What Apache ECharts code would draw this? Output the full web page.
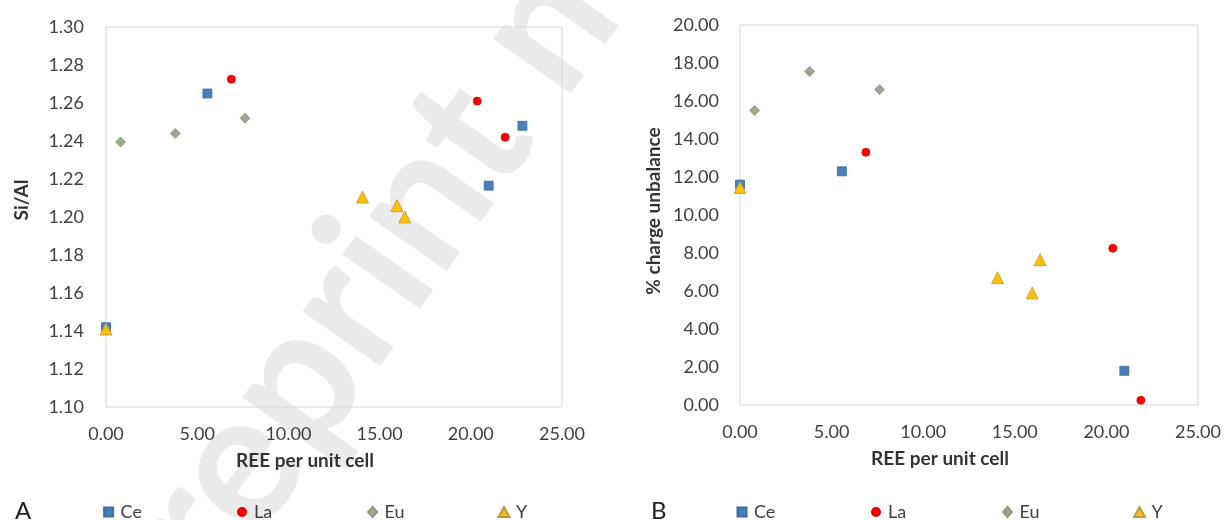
<!DOCTYPE html>
<html>
<head>
<meta charset="utf-8">
<script src="https://cdn.jsdelivr.net/npm/echarts@6/dist/echarts.min.js"></script>
<style>
html,body{margin:0;padding:0;background:#fff;}
#chart{width:1224px;height:520px;}
</style>
</head>
<body>
<div id="chart"></div>
<script>
// ---- data ----
const seriesNames = ['Ce', 'La', 'Eu', 'Y'];
const xTicks = ['0.00', '5.00', '10.00', '15.00', '20.00', '25.00'];

// REE per unit cell
const ceX = [0, 5.56, 20.98, 22.83];
const laX = [6.87, 20.35, 21.88];
const euX = [0.8, 3.8, 7.62];
const yX  = [0, 14.06, 15.95, 16.38];

// Panel A: Si/Al
const ceSiAl = [1.142, 1.265, 1.2165, 1.248];
const laSiAl = [1.2725, 1.261, 1.242];
const euSiAl = [1.2395, 1.244, 1.252];
const ySiAl  = [1.141, 1.2105, 1.206, 1.200];

// Panel B: % charge unbalance
const ceCharge = [11.6, 12.3, 1.8];
const laCharge = [13.3, 8.25, 0.25];
const euCharge = [15.5, 17.55, 16.6];
const yCharge  = [11.45, 6.7, 5.9, 7.65];

// ---- styles ----
const FONT = 'Lato, "Open Sans", sans-serif';
const styles = {
  Ce: {symbol: 'rect', size: 9, color: '#4a7ebb', border: '#3d6ca6', lw: 9, lh: 9},
  La: {symbol: 'circle', size: 8, color: '#ff0000', border: '#e00000', lw: 8, lh: 8},
  Eu: {symbol: 'diamond', size: 10, color: '#98a98c', border: '#8a9b7f', lw: 9, lh: 10},
  Y:  {symbol: 'triangle', size: 12, color: '#ffc000', border: '#b89a4a', lw: 11, lh: 10}
};

function pairs(xs, ys) { return ys.map((v, i) => [xs[i], v]); }

function mkSeries(name, xs, ys, idx) {
  const s = styles[name];
  return {
    type: 'scatter', name: name, xAxisIndex: idx, yAxisIndex: idx,
    symbol: s.symbol, symbolSize: s.size,
    itemStyle: {color: s.color, borderColor: s.border, borderWidth: 0.8, opacity: 1},
    data: pairs(xs, ys), z: 3
  };
}

const labelStyle = {color: '#404040', fontSize: 18, fontFamily: FONT};
const nameStyle = {color: '#333333', fontSize: 19, fontWeight: 'bold', fontFamily: FONT};

function xAxis(idx) {
  return {
    type: 'value', gridIndex: idx, min: 0, max: 25, interval: 5,
    axisLine: {show: false}, axisTick: {show: false}, splitLine: {show: false},
    axisLabel: Object.assign({margin: 18, formatter: v => xTicks[Math.round(v / 5)]}, labelStyle),
    name: 'REE per unit cell', nameLocation: 'middle', nameGap: 44,
    nameTextStyle: Object.assign({padding: [0, 58, 0, 0]}, nameStyle)
  };
}

// legend icon centres (layout)
const legendCentersA = [102.6, 236, 366.6, 498];
const legendCentersB = [736, 870, 1001.5, 1133.5];

function mkLegends(centers) {
  return seriesNames.map((n, i) => {
    const s = styles[n];
    return {
      left: centers[i] - s.lw / 2, top: 498,
      itemWidth: s.lw, itemHeight: s.lh, data: [n],
      selectedMode: false,
      textStyle: Object.assign({padding: [0, 0, 0, 12 - s.lw / 2 - 5]}, labelStyle)
    };
  });
}

const option = {
  backgroundColor: '#ffffff',
  animation: false,
  textStyle: {fontFamily: FONT},
  graphic: [
    {type: 'text', x: 105, y: 655, rotation: 55 * Math.PI / 180, z: -10, silent: true,
     style: {text: 'Preprint not peer reviewed', fontSize: 185, fontWeight: 'bold', fontFamily: FONT,
             fill: '#ebebeb', align: 'left', verticalAlign: 'middle'}},
    {type: 'text', x: 15, y: 511, style: {text: 'A', fontSize: 24, fontFamily: FONT, fill: '#222', verticalAlign: 'middle'}},
    {type: 'text', x: 651, y: 511, style: {text: 'B', fontSize: 24, fontFamily: FONT, fill: '#222', verticalAlign: 'middle'}}
  ],
  grid: [
    {left: 106, top: 27, width: 456, height: 380, show: true, borderColor: '#d9d9d9', borderWidth: 1, backgroundColor: 'transparent'},
    {left: 740, top: 25, width: 458, height: 380, show: true, borderColor: '#d9d9d9', borderWidth: 1, backgroundColor: 'transparent'}
  ],
  xAxis: [xAxis(0), xAxis(1)],
  yAxis: [
    {type: 'value', gridIndex: 0, min: 1.10, max: 1.30, interval: 0.02,
     axisLine: {show: false}, axisTick: {show: false}, splitLine: {show: false},
     axisLabel: Object.assign({margin: 22, formatter: v => v.toFixed(2)}, labelStyle),
     name: 'Si/Al', nameLocation: 'middle', nameGap: 75,
     nameTextStyle: Object.assign({padding: [0, 0, 0, 34]}, nameStyle)},
    {type: 'value', gridIndex: 1, min: 0, max: 20, interval: 2,
     axisLine: {show: false}, axisTick: {show: false}, splitLine: {show: false},
     axisLabel: Object.assign({margin: 21, formatter: v => v.toFixed(2)}, labelStyle),
     name: '% charge unbalance', nameLocation: 'middle', nameGap: 77,
     nameTextStyle: Object.assign({padding: [0, 0, 0, 8]}, nameStyle)}
  ],
  legend: mkLegends(legendCentersA).concat(mkLegends(legendCentersB)),
  series: [
    mkSeries('Ce', ceX, ceSiAl, 0),
    mkSeries('La', laX, laSiAl, 0),
    mkSeries('Eu', euX, euSiAl, 0),
    mkSeries('Y', yX, ySiAl, 0),
    mkSeries('Ce', ceX, ceCharge, 1),
    mkSeries('La', laX, laCharge, 1),
    mkSeries('Eu', euX, euCharge, 1),
    mkSeries('Y', yX, yCharge, 1)
  ]
};

const chart = echarts.init(document.getElementById('chart'), null, {renderer: 'canvas'});
chart.setOption(option);
</script>
</body>
</html>
